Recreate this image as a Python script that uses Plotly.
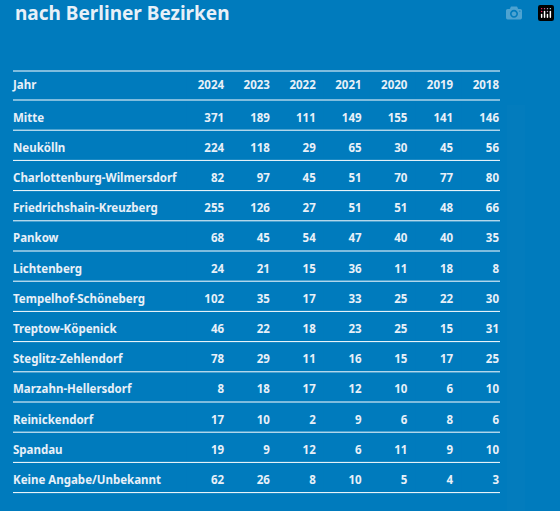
import plotly.graph_objects as go

title = "nach Berliner Bezirken"
years = ["2024", "2023", "2022", "2021", "2020", "2019", "2018"]
districts = ["Mitte", "Neukölln", "Charlottenburg-Wilmersdorf", "Friedrichshain-Kreuzberg",
             "Pankow", "Lichtenberg", "Tempelhof-Schöneberg", "Treptow-Köpenick",
             "Steglitz-Zehlendorf", "Marzahn-Hellersdorf", "Reinickendorf", "Spandau",
             "Keine Angabe/Unbekannt"]
v2024 = [371, 224, 82, 255, 68, 24, 102, 46, 78, 8, 17, 19, 62]
v2023 = [189, 118, 97, 126, 45, 21, 35, 22, 29, 18, 10, 9, 26]
v2022 = [111, 29, 45, 27, 54, 15, 17, 18, 11, 17, 2, 12, 8]
v2021 = [149, 65, 51, 51, 47, 36, 33, 23, 16, 12, 9, 6, 10]
v2020 = [155, 30, 70, 51, 40, 11, 25, 25, 15, 10, 6, 11, 5]
v2019 = [141, 45, 77, 48, 40, 18, 22, 15, 17, 6, 8, 9, 4]
v2018 = [146, 56, 80, 66, 35, 8, 30, 31, 25, 10, 6, 10, 3]

BG = "#007bbd"
FG = "#e8f0f8"
W, H = 560, 511
x0, x1 = 13, 500
top = 71
hh, rh = 29, 30.2
ttop, thh = 72, 33
FONT = dict(family="Noto Sans", size=11.5, color=FG, weight="bold")

fig = go.Figure(go.Table(
    domain=dict(x=[(x0 - 8) / W, (x1 + 7) / W], y=[0, 1 - ttop / H]),
    columnwidth=[180] + [45.5] * 7,
    header=dict(values=["Jahr"] + years, height=thh,
                align=["left"] + ["right"] * 7,
                fill_color=BG, line=dict(color=BG, width=0), font=FONT),
    cells=dict(values=[districts, v2024, v2023, v2022, v2021, v2020, v2019, v2018],
               height=rh, align=["left"] + ["right"] * 7,
               fill_color=BG, line=dict(color=BG, width=0), font=FONT),
))

ys = [top, top + hh] + [top + hh + rh * (i + 1) for i in range(len(districts))]
for yy in ys:
    fig.add_shape(type="line", xref="paper", yref="paper",
                  x0=x0 / W, x1=x1 / W, y0=1 - yy / H, y1=1 - yy / H,
                  line=dict(color="white", width=1))

fig.add_annotation(text=title, xref="paper", yref="paper", x=x0 / W, y=1 - 13 / H,
                   xanchor="left", yanchor="middle", showarrow=False,
                   font=dict(family="Noto Sans", size=19, color=FG, weight="bold"))

fig.update_layout(width=W, height=H, margin=dict(l=0, r=0, t=0, b=0),
                  paper_bgcolor=BG, plot_bgcolor=BG)
fig.write_html("out.html",
               post_script="document.body.style.margin='0';document.body.style.background='%s';" % BG)
